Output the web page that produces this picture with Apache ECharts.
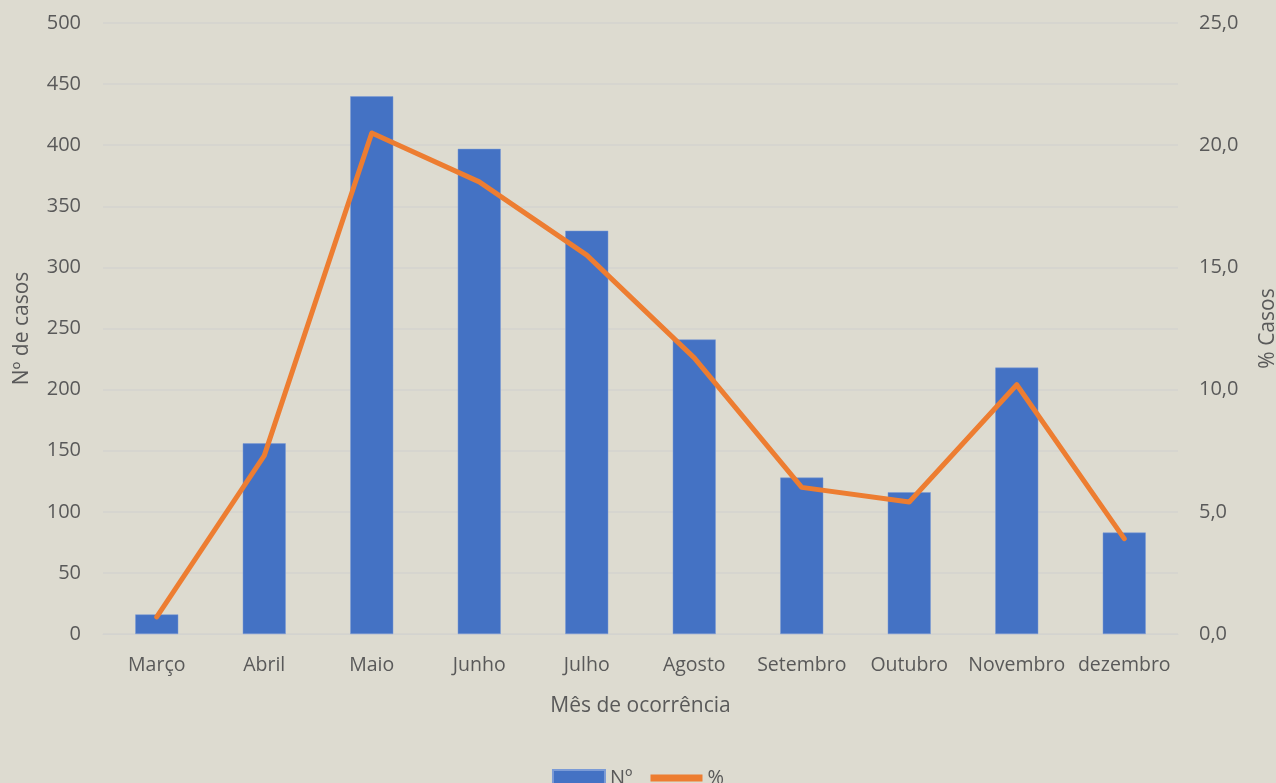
<!DOCTYPE html>
<html><head><meta charset="utf-8">
<script src="https://cdn.jsdelivr.net/npm/echarts@6/dist/echarts.min.js"></script>
<style>html,body{margin:0;padding:0;background:#dddbd0;}#c{width:1276px;height:783px;}</style>
</head><body><div id="c"></div>
<script>
var categories = ['Março','Abril','Maio','Junho','Julho','Agosto','Setembro','Outubro','Novembro','dezembro'];
var casos = [16, 156, 440, 397, 330, 241, 128, 116, 218, 83];
var pct = [0.7, 7.3, 20.5, 18.5, 15.5, 11.3, 6.0, 5.4, 10.2, 3.9];
var font = 'Open Sans';
var txt = '#595959';
var chart = echarts.init(document.getElementById('c'));
chart.setOption({
  backgroundColor: '#dddbd0',
  animation: false,
  textStyle: {fontFamily: font},
  grid: {left: 103, right: 98, top: 23, bottom: 149, containLabel: false, outerBoundsMode: 'none'},
  legend: {
    bottom: -10, left: 'center', itemWidth: 52, itemHeight: 16, itemGap: 18,
    textStyle: {color: txt, fontSize: 20, fontFamily: font},
    data: [{name: 'Nº', icon: 'rect'}, {name: '%', icon: 'path://M0,0L10,0L10,1.3L0,1.3Z'}]
  },
  xAxis: {
    type: 'category', data: categories,
    name: 'Mês de ocorrência', nameLocation: 'middle', nameGap: 62,
    nameTextStyle: {color: txt, fontSize: 21, fontFamily: font},
    axisLine: {show: true, lineStyle: {color: '#d3d3cf'}},
    axisTick: {show: false},
    axisLabel: {color: txt, fontSize: 19.5, fontFamily: font, margin: 21, interval: 0}
  },
  yAxis: [{
    type: 'value', min: 0, max: 500, interval: 50,
    name: 'Nº de casos', nameLocation: 'middle', nameGap: 70,
    nameTextStyle: {color: txt, fontSize: 21, fontFamily: font},
    axisLine: {show: false}, axisTick: {show: false},
    axisLabel: {color: txt, fontSize: 20, fontFamily: font, margin: 22},
    splitLine: {lineStyle: {color: '#d3d3cf', width: 1.5}}
  }, {
    type: 'value', min: 0, max: 25, interval: 5,
    name: '% Casos', nameLocation: 'middle', nameGap: 80, nameRotate: 90,
    nameTextStyle: {color: txt, fontSize: 21, fontFamily: font},
    axisLine: {show: false}, axisTick: {show: false},
    axisLabel: {color: txt, fontSize: 20, fontFamily: font, margin: 21,
      formatter: function(v){return v.toFixed(1).replace('.', ',');}},
    splitLine: {show: false}
  }],
  series: [{
    name: 'Nº', type: 'bar', data: casos, barWidth: '40%',
    itemStyle: {color: '#4472c4', borderColor: '#7b9bd6', borderWidth: 0.5}
  }, {
    name: '%', type: 'line', yAxisIndex: 1, data: pct,
    symbol: 'none', lineStyle: {color: '#ed7d31', width: 5, cap: 'round', join: 'round'},
    itemStyle: {color: '#ed7d31'}
  }]
});
</script></body></html>
